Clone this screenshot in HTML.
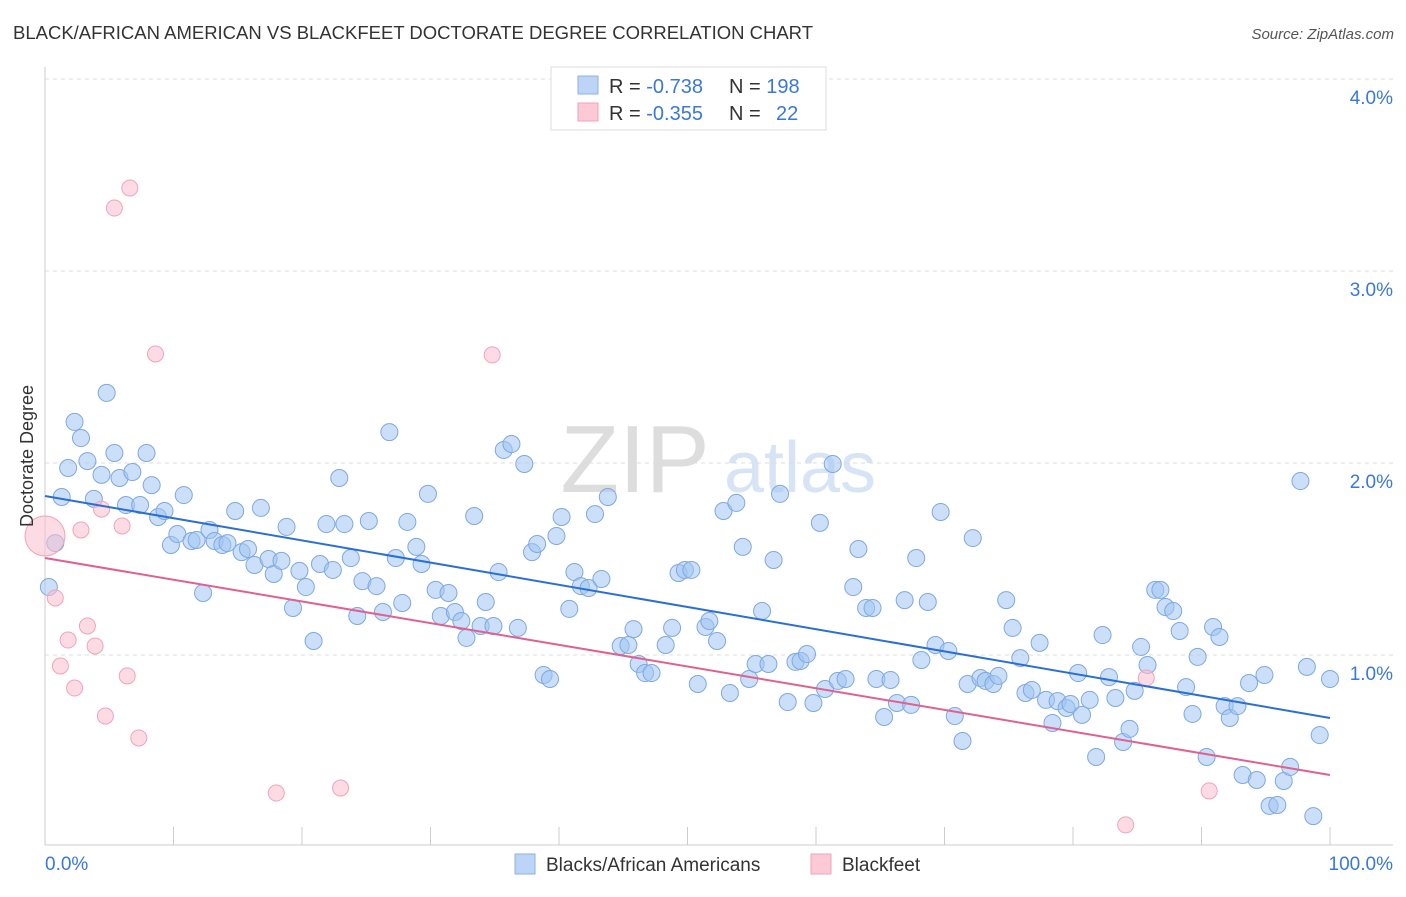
<!DOCTYPE html>
<html><head><meta charset="utf-8"><style>
body{margin:0;background:#fff;font-family:"Liberation Sans",sans-serif}
svg text{font-family:"Liberation Sans",sans-serif}
</style></head><body>
<svg id="chart" width="1406" height="892" xmlns="http://www.w3.org/2000/svg">
<text x="13" y="39" font-size="18" fill="#333" textLength="800" lengthAdjust="spacingAndGlyphs">BLACK/AFRICAN AMERICAN VS BLACKFEET DOCTORATE DEGREE CORRELATION CHART</text>
<text x="1394" y="39" font-size="15" fill="#555" font-style="italic" text-anchor="end">Source: ZipAtlas.com</text>
<g>
<text x="635" y="492" font-size="96" fill="#ddd" font-family="Liberation Serif" text-anchor="middle">ZIP</text>
<text x="800" y="492" font-size="72" fill="#d6e4f5" text-anchor="middle">atlas</text>
</g>
<g id="grid"></g>
<g id="axes"></g>
<g id="marks"></g>
<text transform="translate(33,456) rotate(-90)" font-size="18" fill="#333" text-anchor="middle">Doctorate Degree</text>
<g>
<rect x="551" y="67" width="275" height="63" fill="#fff" stroke="#ddd"/>
<rect x="578" y="76" width="20" height="18" fill="#bcd4f6" stroke="#8ab0e6"/>
<rect x="578" y="103" width="20" height="18" fill="#fcc9d7" stroke="#f0a3ba"/>
<text x="609" y="93" font-size="20" fill="#333">R = <tspan fill="#3a78d8">-0.738</tspan><tspan x="729">N = </tspan><tspan fill="#3a78d8">198</tspan></text>
<text x="609" y="120" font-size="20" fill="#333">R = <tspan fill="#3a78d8">-0.355</tspan><tspan x="729">N = </tspan><tspan fill="#3a78d8" x="776">22</tspan></text>
</g>
<g>
<rect x="515" y="854" width="20" height="20" fill="#bcd4f6" stroke="#8ab0e6"/>
<text x="546" y="871" font-size="19" fill="#333">Blacks/African Americans</text>
<rect x="811" y="854" width="20" height="20" fill="#fcc9d7" stroke="#f0a3ba"/>
<text x="842" y="871" font-size="19" fill="#333">Blackfeet</text>
</g>
</svg>
<script>
const yTicks=[1,2,3,4];
const yTickLabels=["1.0%","2.0%","3.0%","4.0%"];
const xTickLabels=["0.0%","100.0%"];
const blueX=[0.3,0.8,1.3,1.8,2.3,2.8,3.3,3.8,4.4,4.8,5.4,5.8,6.3,6.8,7.4,7.9,8.3,8.8,9.3,9.8,10.3,10.8,11.4,11.8,12.3,12.8,13.2,13.8,14.2,14.8,15.3,15.8,16.3,16.8,17.4,17.8,18.4,18.8,19.3,19.8,20.3,20.9,21.4,21.9,22.4,22.9,23.3,23.8,24.3,24.7,25.2,25.8,26.3,26.8,27.3,27.8,28.2,28.9,29.3,29.8,30.4,30.8,31.4,31.9,32.4,32.8,33.4,33.9,34.3,34.9,35.3,35.7,36.3,36.8,37.3,37.9,38.3,38.8,39.3,39.8,40.2,40.8,41.2,41.7,42.3,42.8,43.3,43.8,44.8,45.4,45.8,46.2,46.7,47.2,48.3,48.8,49.3,49.8,50.3,50.8,51.4,51.7,52.3,52.8,53.3,53.8,54.3,54.8,55.3,55.8,56.3,56.7,57.2,57.8,58.4,58.8,59.3,59.8,60.3,60.7,61.3,61.7,62.3,62.9,63.3,63.9,64.4,64.7,65.3,65.8,66.3,66.9,67.4,67.8,68.2,68.7,69.3,69.7,70.3,70.8,71.4,71.8,72.2,72.8,73.2,73.8,74.2,74.8,75.3,75.9,76.3,76.8,77.4,77.9,78.4,78.8,79.5,79.8,80.4,80.7,81.3,81.8,82.3,82.8,83.3,83.9,84.4,84.8,85.3,85.8,86.4,86.8,87.2,87.8,88.3,88.8,89.3,89.7,90.4,90.9,91.4,91.8,92.2,92.8,93.2,93.7,94.3,94.9,95.3,95.9,96.4,96.9,97.7,98.2,98.7,99.2,100];
const blueY=[1.354,1.583,1.823,1.974,2.214,2.130,2.010,1.813,1.938,2.365,2.052,1.922,1.781,1.953,1.781,2.052,1.885,1.719,1.750,1.573,1.630,1.833,1.594,1.599,1.323,1.651,1.594,1.573,1.583,1.750,1.536,1.552,1.469,1.766,1.500,1.422,1.490,1.667,1.245,1.438,1.354,1.073,1.474,1.682,1.443,1.922,1.682,1.505,1.203,1.385,1.698,1.359,1.224,2.161,1.505,1.271,1.693,1.563,1.474,1.839,1.339,1.203,1.323,1.224,1.177,1.089,1.724,1.151,1.276,1.151,1.432,2.068,2.099,1.141,1.995,1.536,1.578,0.896,0.875,1.620,1.719,1.240,1.432,1.359,1.349,1.734,1.396,1.823,1.047,1.052,1.135,0.953,0.906,0.906,1.052,1.141,1.427,1.443,1.443,0.849,1.146,1.177,1.073,1.750,0.802,1.792,1.563,0.875,0.953,1.229,0.953,1.495,1.839,0.755,0.964,0.969,1.005,0.750,1.688,0.823,1.995,0.865,0.875,1.354,1.552,1.245,1.245,0.875,0.677,0.870,0.750,1.286,0.740,1.505,0.974,1.276,1.052,1.745,1.021,0.682,0.552,0.849,1.609,0.880,0.865,0.849,0.891,1.286,1.141,0.984,0.802,0.818,1.063,0.766,0.646,0.760,0.724,0.745,0.906,0.688,0.766,0.469,1.104,0.885,0.776,0.547,0.615,0.813,1.042,0.948,1.339,1.339,1.250,1.229,1.125,0.833,0.693,0.990,0.469,1.146,1.094,0.734,0.672,0.734,0.375,0.854,0.349,0.896,0.214,0.219,0.344,0.417,1.906,0.938,0.161,0.583,0.875];
const pinkX=[0.0,0.8,1.2,1.8,2.3,2.8,3.3,3.9,4.4,4.7,5.4,6.0,6.4,6.6,7.3,8.6,18.0,23.0,34.8,84.1,85.7,90.6];
const pinkY=[1.62,1.297,0.943,1.078,0.828,1.651,1.151,1.047,1.760,0.682,3.328,1.672,0.891,3.432,0.568,2.568,0.281,0.307,2.563,0.115,0.880,0.292];
const pinkSize=[20,8,8,8,8,8,8,8,8,8,8,8,8,8,8,8,8,8,8,8,8,8];
const blueTrend=[1.828,0.672];
const pinkTrend=[1.505,0.375];
const NS="http://www.w3.org/2000/svg";
const sx=v=>45+v*12.85, sy=v=>847-v*192;
function mk(tag,at,parent){const e=document.createElementNS(NS,tag);for(const k in at)e.setAttribute(k,at[k]);document.getElementById(parent).appendChild(e);return e;}
yTicks.forEach((t,i)=>{
 const g=mk('line',{x1:45,x2:1393,y1:sy(t),y2:sy(t),stroke:'#ddd','stroke-dasharray':'4,4'},'grid');
 
 
 const l=mk('text',{x:1393,y:sy(t)+25,'font-size':19,fill:'#3a78d8','text-anchor':'end'},'axes');
 l.textContent=yTickLabels[i];
 
 
});
let a=mk('line',{x1:45,x2:45,y1:67,y2:845,stroke:'#ccc'},'axes');


a=mk('line',{x1:45,x2:1393,y1:845,y2:845,stroke:'#ccc'},'axes');


for(let i=0;i<=10;i++){const t=mk('line',{x1:sx(i*10),x2:sx(i*10),y1:827,y2:845,stroke:'#ccc'},'axes');
 
 }
[[0,'start',45],[100,'end',1393]].forEach((d,i)=>{const t=mk('text',{x:d[2],y:870,'font-size':19,fill:'#3a78d8','text-anchor':d[1]},'axes');t.textContent=xTickLabels[i];
 
 });
blueX.forEach((x,i)=>{const c=mk('circle',{cx:sx(x),cy:sy(blueY[i]),r:8.5,fill:'rgba(160,196,242,0.55)',stroke:'#7ea8e2','stroke-width':1},'marks');
 
 });
pinkX.forEach((x,i)=>{const c=mk('circle',{cx:sx(x),cy:sy(pinkY[i]),r:pinkSize[i],fill:'rgba(250,190,208,0.55)',stroke:'#f0a3ba','stroke-width':1},'marks');
 
 });
let tl=mk('line',{x1:sx(0),x2:sx(100),y1:sy(blueTrend[0]),y2:sy(blueTrend[1]),stroke:'#2a6fd6','stroke-width':2},'marks');


tl=mk('line',{x1:sx(0),x2:sx(100),y1:sy(pinkTrend[0]),y2:sy(pinkTrend[1]),stroke:'#e0608f','stroke-width':2},'marks');


</script>
</body></html>
